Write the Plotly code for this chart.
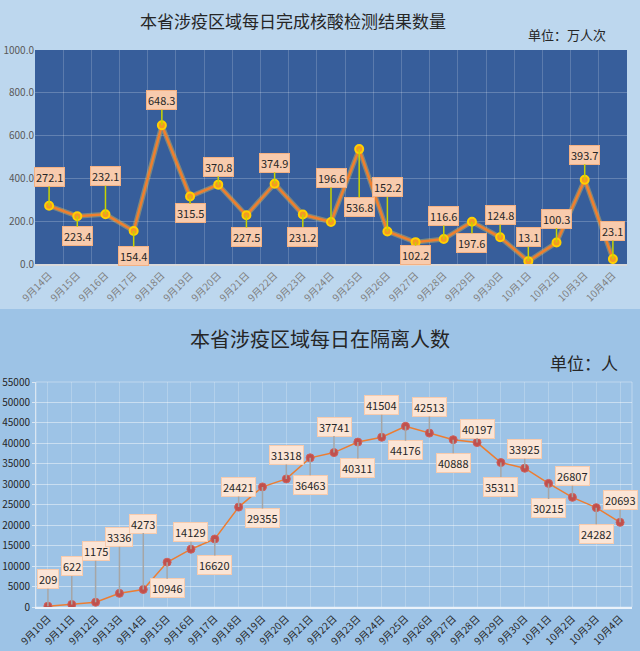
import plotly.graph_objects as go

# ---- data ----
top_dates = ["9月14日", "9月15日", "9月16日", "9月17日", "9月18日", "9月19日", "9月20日",
             "9月21日", "9月22日", "9月23日", "9月24日", "9月25日", "9月26日", "9月27日",
             "9月28日", "9月29日", "9月30日", "10月1日", "10月2日", "10月3日", "10月4日"]
top_values = [272.1, 223.4, 232.1, 154.4, 648.3, 315.5, 370.8, 227.5, 374.9, 231.2, 196.6,
              536.8, 152.2, 102.2, 116.6, 197.6, 124.8, 13.1, 100.3, 393.7, 23.1]

bot_dates = ["9月10日", "9月11日", "9月12日", "9月13日", "9月14日", "9月15日", "9月16日",
             "9月17日", "9月18日", "9月19日", "9月20日", "9月21日", "9月22日", "9月23日",
             "9月24日", "9月25日", "9月26日", "9月27日", "9月28日", "9月29日", "9月30日",
             "10月1日", "10月2日", "10月3日", "10月4日"]
bot_values = [209, 622, 1175, 3336, 4273, 10946, 14129, 16620, 24421, 29355, 31318, 36463,
              37741, 40311, 41504, 44176, 42513, 40888, 40197, 35311, 33925, 30215, 26807,
              24282, 20693]

top_title = "本省涉疫区域每日完成核酸检测结果数量"
top_unit = "单位：万人次"
bot_title = "本省涉疫区域每日在隔离人数"
bot_unit = "单位：人"

# label offsets (pixels, style only)
top_label_dy = [-29, 20, -38, 25, -25, 17, -18, 22, -21, 22, -44, 58, -44, 13, -23, 21, -22,
                -24, -24, -25, -28]
bot_label_dy = [-27, -38, -51, -56, -66, 26, -17, 26, -20, 31, -24, 27, -26, 26, -32, 24, -26,
                23, -14, 24, -19, 25, -21, 26, -22]

FONT = "Noto Sans CJK SC"
W, H = 640, 651

def px_x(p):
    return p / W

def px_y(p):
    return 1 - p / H

TOP_L, TOP_R, TOP_T, TOP_B = 35, 627, 50, 264
BOT_L, BOT_R, BOT_T, BOT_B = 36, 632, 382, 607

fig = go.Figure()

# top chart: glow + line
fig.add_trace(go.Scatter(x=top_dates, y=top_values, mode="lines",
                         line=dict(color="rgba(250,215,80,0.35)", width=5),
                         hoverinfo="skip", showlegend=False, xaxis="x", yaxis="y"))
fig.add_trace(go.Scatter(x=top_dates, y=top_values, mode="lines+markers",
                         line=dict(color="#f07f2e", width=2.5),
                         marker=dict(size=8, color="#f59a23", line=dict(color="#ffd000", width=2)),
                         showlegend=False, xaxis="x", yaxis="y"))

# bottom chart
fig.add_trace(go.Scatter(x=bot_dates, y=bot_values, mode="lines+markers",
                         line=dict(color="#ed7d31", width=1.5),
                         marker=dict(size=8, color="#c0504d", line=dict(color="#d0605a", width=1)),
                         showlegend=False, xaxis="x2", yaxis="y2"))

annotations = []
for d, v, dy in zip(top_dates, top_values, top_label_dy):
    annotations.append(dict(x=d, y=v, xref="x", yref="y", text=f"{v:.1f}", showarrow=True,
                            arrowhead=0, arrowwidth=1.5, arrowcolor="#c8d400", ax=0, ay=dy,
                            bgcolor="#f8cbad", bordercolor="#f4b183", borderwidth=1, borderpad=1,
                            font=dict(family=FONT, size=11, color="#262626")))
for d, v, dy in zip(bot_dates, bot_values, bot_label_dy):
    annotations.append(dict(x=d, y=v, xref="x2", yref="y2", text=str(v), showarrow=True,
                            arrowhead=0, arrowwidth=1.5, arrowcolor="#a6a6a6", ax=0, ay=dy,
                            bgcolor="#fbe5d6", bordercolor="#f8cbad", borderwidth=1, borderpad=1,
                            font=dict(family=FONT, size=11, color="#262626")))

annotations += [
    dict(text=top_title, x=px_x(293), y=px_y(21), xref="paper", yref="paper", showarrow=False,
         xanchor="center", yanchor="middle", font=dict(family=FONT, size=17, color="#262626")),
    dict(text=top_unit, x=px_x(567), y=px_y(35), xref="paper", yref="paper", showarrow=False,
         xanchor="center", yanchor="middle", font=dict(family=FONT, size=13, color="#262626")),
    dict(text=bot_title, x=px_x(320), y=px_y(338), xref="paper", yref="paper", showarrow=False,
         xanchor="center", yanchor="middle", font=dict(family=FONT, size=20, color="#262626")),
    dict(text=bot_unit, x=px_x(584), y=px_y(362), xref="paper", yref="paper", showarrow=False,
         xanchor="center", yanchor="middle", font=dict(family=FONT, size=17, color="#262626")),
]

shapes = [
    dict(type="rect", xref="paper", yref="paper", x0=0, x1=1, y0=px_y(309), y1=1,
         fillcolor="#bdd7ee", line=dict(width=0), layer="below"),
    dict(type="rect", xref="paper", yref="paper", x0=0, x1=1, y0=0, y1=px_y(309),
         fillcolor="#9dc3e6", line=dict(width=0), layer="below"),
    dict(type="rect", xref="paper", yref="paper", x0=px_x(TOP_L), x1=px_x(TOP_R),
         y0=px_y(TOP_B), y1=px_y(TOP_T), fillcolor="#375e9b", line=dict(width=0), layer="below"),
    dict(type="rect", xref="paper", yref="paper", x0=px_x(BOT_L), x1=px_x(BOT_R),
         y0=px_y(BOT_B), y1=px_y(BOT_T), fillcolor="rgba(0,0,0,0)",
         line=dict(color="rgba(255,255,255,0.35)", width=1), layer="below"),
]

fig.update_layout(
    width=W, height=H, margin=dict(l=0, r=0, t=0, b=0, pad=0),
    paper_bgcolor="#bdd7ee", plot_bgcolor="rgba(0,0,0,0)",
    font=dict(family=FONT),
    shapes=shapes, annotations=annotations, showlegend=False,
    xaxis=dict(domain=[px_x(TOP_L), px_x(TOP_R)], anchor="y", type="category", automargin=False,
               tickangle=-45, tickfont=dict(size=10, color="#7f7f7f", family=FONT),
               showgrid=True, gridcolor="rgba(255,255,255,0.18)", tickson="boundaries",
               ticks="", showline=True, linecolor="#d9d9d9", linewidth=1.5,
               range=[-0.5, len(top_dates) - 0.5]),
    yaxis=dict(domain=[px_y(TOP_B), px_y(TOP_T)], anchor="x", range=[0, 1000], dtick=200,
               automargin=False,
               tickformat=".1f", tickfont=dict(size=10, color="#595959", family=FONT),
               showgrid=True, gridcolor="rgba(255,255,255,0.22)", zeroline=False, ticks=""),
    xaxis2=dict(domain=[px_x(BOT_L), px_x(BOT_R)], anchor="y2", type="category", automargin=False,
                tickangle=-45, tickfont=dict(size=10, color="#262626", family=FONT),
                showgrid=True, gridcolor="rgba(255,255,255,0.22)",
                ticks="", showline=True, linecolor="#eaf2fa", linewidth=2,
                range=[-0.5, len(bot_dates) - 0.5]),
    yaxis2=dict(domain=[px_y(BOT_B), px_y(BOT_T)], anchor="x2", range=[0, 55000], dtick=5000,
                automargin=False,
                tickformat="d", tickfont=dict(size=10, color="#262626", family=FONT),
                showgrid=True, gridcolor="rgba(255,255,255,0.45)", zeroline=False,
                ticks="outside", ticklen=3, tickcolor="#d9e6f2",
                showline=True, linecolor="#d9e6f2", linewidth=1),
)

fig.write_html("out.html", config={"displayModeBar": False},
               post_script="document.body.style.margin='0';document.body.style.padding='0';")
